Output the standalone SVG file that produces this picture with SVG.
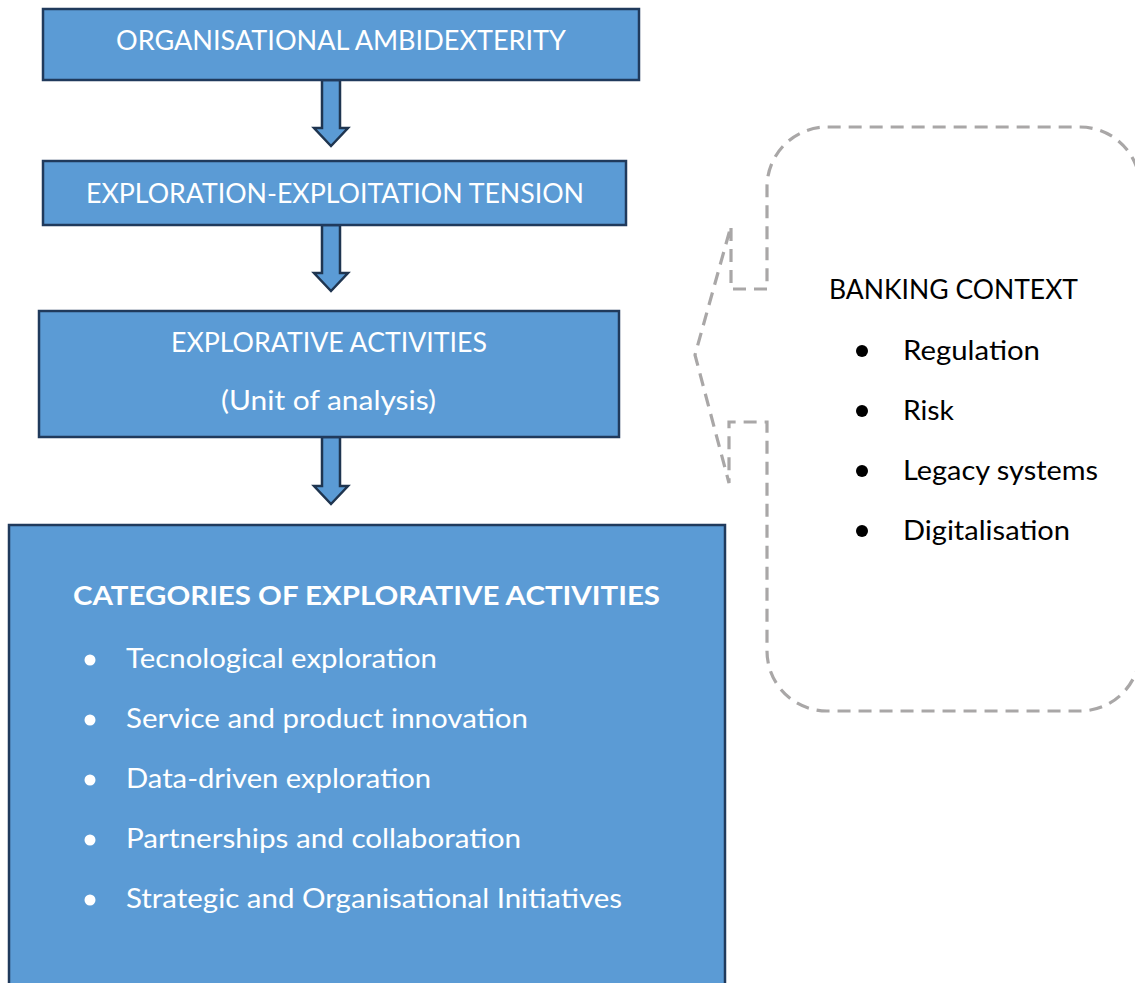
<svg xmlns="http://www.w3.org/2000/svg" width="1135" height="983" viewBox="0 0 1135 983">
  <style>
    .box { fill: #5B9BD5; stroke: #203A5C; stroke-width: 2.5; }
    .arrow { fill: #5B9BD5; stroke: #1F3550; stroke-width: 2.5; stroke-linejoin: miter; }
    .wt { fill: #FFFFFF; font-family: Lato, "Open Sans", "Liberation Sans", sans-serif; font-size: 27px; }
    .bt { fill: #000000; font-family: Lato, "Open Sans", "Liberation Sans", sans-serif; font-size: 27px; }
    .hd { font-weight: bold; }
    .callout { fill: none; stroke: #A9A7A7; stroke-width: 3.2; stroke-dasharray: 13 8; }
  </style>
  <rect width="1135" height="983" fill="#FFFFFF"/>

  <!-- flow connectors: block arrows between stages -->
  <g id="connectors">
    <path class="arrow" d="M322,80 L340,80 L340,128 L348,128 L331,146 L314,128 L322,128 Z"/>
    <path class="arrow" d="M322,225 L340,225 L340,273 L348,273 L331,291 L314,273 L322,273 Z"/>
    <path class="arrow" d="M322,437 L340,437 L340,486 L348,486 L331,504 L314,486 L322,486 Z"/>
  </g>

  <g id="node-ambidexterity">
    <rect class="box" x="43" y="9" width="596" height="71"/>
    <text class="wt" x="116" y="50" textLength="450" lengthAdjust="spacingAndGlyphs">ORGANISATIONAL AMBIDEXTERITY</text>
  </g>

  <g id="node-tension">
    <rect class="box" x="43" y="161" width="583" height="64"/>
    <text class="wt" x="86" y="203" textLength="498" lengthAdjust="spacingAndGlyphs">EXPLORATION-EXPLOITATION TENSION</text>
  </g>

  <g id="node-activities">
    <rect class="box" x="39" y="311" width="580" height="126"/>
    <text class="wt" x="171" y="352" textLength="316" lengthAdjust="spacingAndGlyphs">EXPLORATIVE ACTIVITIES</text>
    <text class="wt" x="221" y="410" textLength="215" lengthAdjust="spacingAndGlyphs">(Unit of analysis)</text>
  </g>

  <g id="node-categories">
    <rect class="box" x="9" y="525" width="716" height="470"/>
    <text class="wt hd" x="73" y="605" textLength="587" lengthAdjust="spacingAndGlyphs">CATEGORIES OF EXPLORATIVE ACTIVITIES</text>
    <g fill="#FFFFFF">
      <circle cx="90" cy="660" r="5.5"/>
      <circle cx="90" cy="720" r="5.5"/>
      <circle cx="90" cy="780" r="5.5"/>
      <circle cx="90" cy="840" r="5.5"/>
      <circle cx="90" cy="900" r="5.5"/>
    </g>
    <text class="wt" x="126" y="668" textLength="311" lengthAdjust="spacingAndGlyphs">Tecnological exploration</text>
    <text class="wt" x="126" y="728" textLength="402" lengthAdjust="spacingAndGlyphs">Service and product innovation</text>
    <text class="wt" x="126" y="788" textLength="305" lengthAdjust="spacingAndGlyphs">Data-driven exploration</text>
    <text class="wt" x="126" y="848" textLength="395" lengthAdjust="spacingAndGlyphs">Partnerships and collaboration</text>
    <text class="wt" x="126" y="908" textLength="496" lengthAdjust="spacingAndGlyphs">Strategic and Organisational Initiatives</text>
  </g>

  <g id="node-banking-context">
    <path class="callout" d="M767,289 L731,289 L731,226 L695,355 L729,483 L729,422 L767,422 L767,651 A60,60 0 0 0 827,711 L1080,711 A60,60 0 0 0 1140,651 L1140,187 A60,60 0 0 0 1080,127 L827,127 A60,60 0 0 0 767,187 Z"/>
    <text class="bt" x="829" y="299" textLength="249" lengthAdjust="spacingAndGlyphs">BANKING CONTEXT</text>
    <g fill="#000000">
      <circle cx="862" cy="351" r="6"/>
      <circle cx="862" cy="411" r="6"/>
      <circle cx="862" cy="471" r="6"/>
      <circle cx="862" cy="531" r="6"/>
    </g>
    <text class="bt" x="903" y="360" textLength="137" lengthAdjust="spacingAndGlyphs">Regulation</text>
    <text class="bt" x="903" y="420" textLength="51" lengthAdjust="spacingAndGlyphs">Risk</text>
    <text class="bt" x="903" y="480" textLength="195" lengthAdjust="spacingAndGlyphs">Legacy systems</text>
    <text class="bt" x="903" y="540" textLength="167" lengthAdjust="spacingAndGlyphs">Digitalisation</text>
  </g>
</svg>
